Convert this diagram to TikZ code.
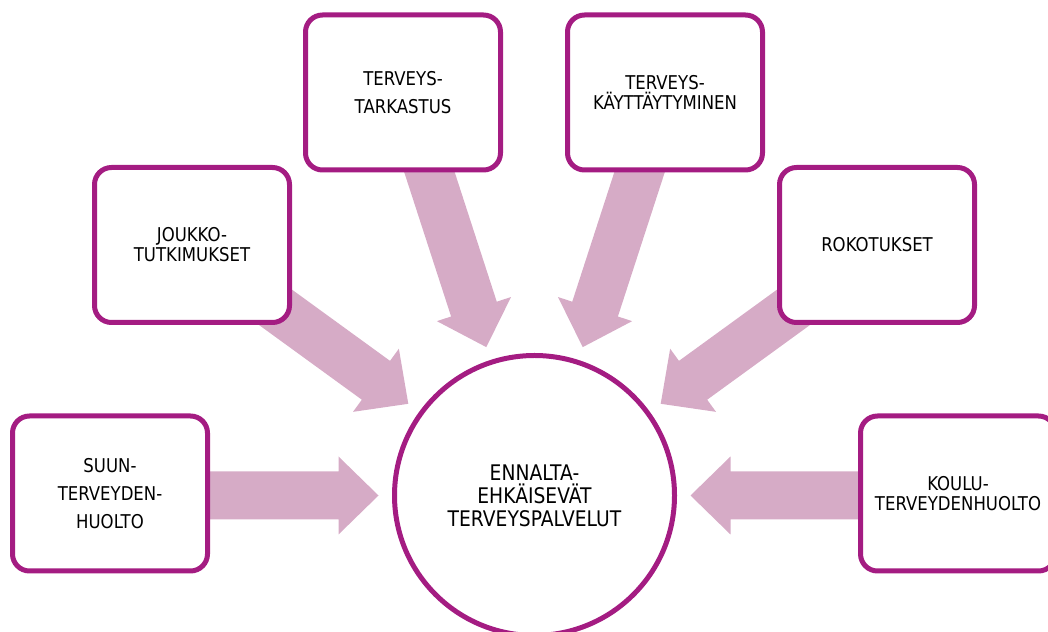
\documentclass[tikz,border=0pt]{standalone}
\usepackage{fontspec}
\newfontfamily\lab{DejaVu Sans}[FakeStretch=0.87]
\definecolor{arrowpink}{RGB}{214,171,198}
\definecolor{framepurple}{RGB}{164,28,130}
\begin{document}
\begin{tikzpicture}[x=1pt,y=1pt,
  boxnode/.style={draw=framepurple, line width=5pt, fill=white, rounded corners=17pt,
    minimum width=195pt, minimum height=155pt, align=center, inner sep=0pt,
    text=black, font=\lab\fontsize{19}{20}\selectfont},
  widebox/.style={boxnode, font=\lab\fontsize{19}{28}\selectfont},
  hubnode/.style={draw=framepurple, line width=5pt, fill=white, circle,
    minimum size=280pt, inner sep=0pt, align=center, text=black,
    font=\lab\fontsize{21.5}{23}\selectfont},
  blockarrow/.style={fill=arrowpink}]
\useasboundingbox (0,0) rectangle (1048,631);
% block arrows (radial, pointing at the hub)
\foreach \a in {0,36,72,108,144,180}{
  \fill[blockarrow, shift={(534.5,135.5)}, rotate=\a]
    (156,0) -- (196,39) -- (196,24) -- (370,24) -- (370,-24) -- (196,-24) -- (196,-39) -- cycle;
}
\node[hubnode] (hub) at (534.5,135.5) {ENNALTA-\\EHKÄISEVÄT\\TERVEYSPALVELUT};
\node[widebox] (suun) at (110,137.5) {SUUN-\\TERVEYDEN-\\HUOLTO};
\node[boxnode] (koulu) at (958,137.5) {KOULU-\\TERVEYDENHUOLTO};
\node[boxnode] (joukko) at (192,386) {JOUKKO-\\TUTKIMUKSET};
\node[boxnode] (roko) at (877,386) {ROKOTUKSET};
\node[widebox] (tark) at (403,538.5) {TERVEYS-\\TARKASTUS};
\node[boxnode] (kayt) at (665,538.5) {TERVEYS-\\KÄYTTÄYTYMINEN};
\end{tikzpicture}
\end{document}
